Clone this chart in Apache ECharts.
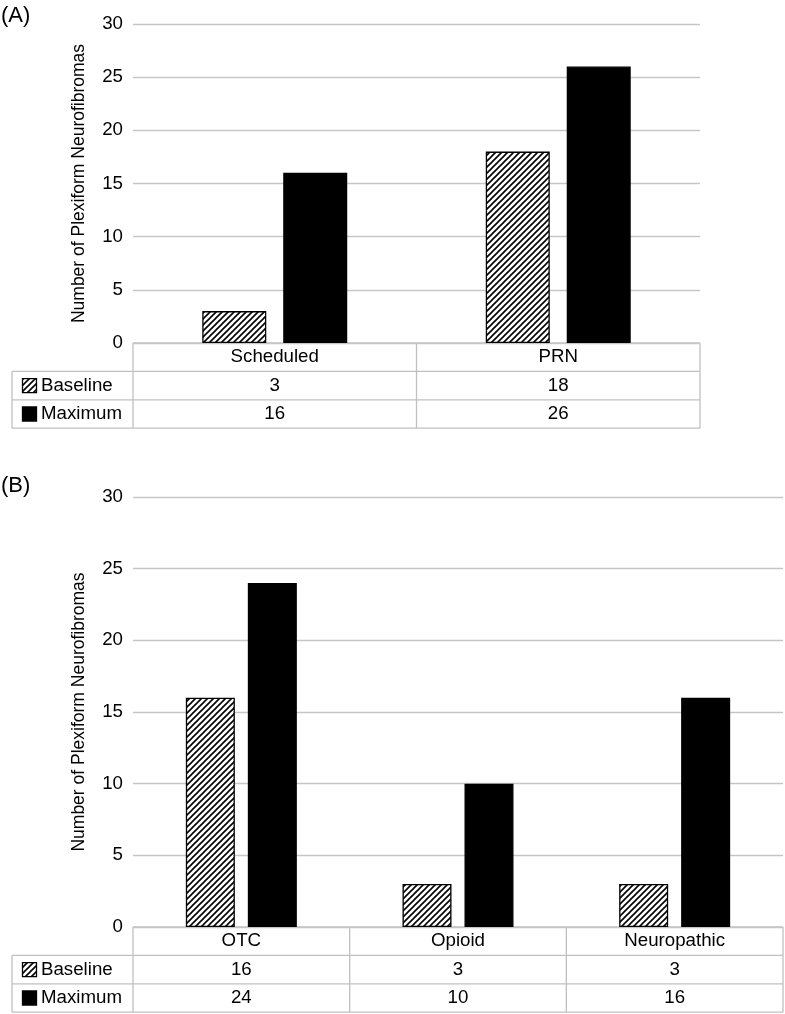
<!DOCTYPE html>
<html><head><meta charset="utf-8">
<script src="https://cdn.jsdelivr.net/npm/echarts@6/dist/echarts.min.js"></script>
<style>html,body{margin:0;padding:0;background:#fff}#c{width:785px;height:1014px}</style>
</head><body><div id="c"></div>
<script>
// ---- data ----
const categoriesA = ['Scheduled', 'PRN'];
const baselineA = [3, 18];
const maximumA = [16, 26];
const categoriesB = ['OTC', 'Opioid', 'Neuropathic'];
const baselineB = [16, 3, 3];
const maximumB = [24, 10, 16];
const yTickMin = 0, yTickMax = 30, yTickStep = 5;
const seriesNames = ['Baseline', 'Maximum'];
const yAxisTitle = 'Number of Plexiform Neurofibromas';
const panelLabels = ['(A)', '(B)'];

// ---- style/layout ----
const FONT = '"Liberation Sans", Arial, Helvetica, sans-serif';
const FS = 18.7;
const GRID_COLOR = '#c6c6c6';
const TABLE_COLOR = '#c0c0c0';
const gA = {left: 133, top: 24, width: 567, height: 319};
const gB = {left: 133, top: 497, width: 650, height: 430};
const rowH = 28.4, labelLeft = 12;

function hatchCanvas() {
  const s = 6, c = document.createElement('canvas');
  c.width = s; c.height = s;
  const ctx = c.getContext('2d');
  ctx.fillStyle = '#fff'; ctx.fillRect(0, 0, s, s);
  ctx.strokeStyle = '#000'; ctx.lineWidth = 1.6;
  ctx.beginPath();
  ctx.moveTo(-1, s + 1); ctx.lineTo(s + 1, -1);
  ctx.moveTo(-1, 1); ctx.lineTo(1, -1);
  ctx.moveTo(s - 1, s + 1); ctx.lineTo(s + 1, s - 1);
  ctx.stroke();
  return c;
}
const hatch = {image: hatchCanvas(), repeat: 'repeat'};

function tableGraphics(g, cats, rows) {
  const out = [];
  const right = g.left + g.width;
  const y0 = g.top + g.height;
  const y3 = y0 + rowH * 3;
  const ln = (x1, y1, x2, y2) => out.push({type: 'line', silent: true, shape: {x1, y1, x2, y2},
    style: {stroke: TABLE_COLOR, lineWidth: 1.3}});
  ln(g.left, y0, right, y0);
  for (let r = 1; r <= 3; r++) ln(labelLeft, y0 + rowH * r, right, y0 + rowH * r);
  ln(labelLeft, y0 + rowH, labelLeft, y3);
  const cw = g.width / cats.length;
  for (let i = 0; i <= cats.length; i++) ln(g.left + i * cw, y0, g.left + i * cw, y3);
  rows.forEach((vals, r) => {
    const cy = y0 + rowH * (r + 1) + rowH / 2;
    out.push({type: 'rect', silent: true, shape: {x: labelLeft + 10.5, y: cy - 7, width: 14, height: 14},
      style: {fill: r === 0 ? hatch : '#000', stroke: '#000', lineWidth: 1.3}});
    out.push({type: 'text', silent: true, x: labelLeft + 29, y: cy,
      style: {text: seriesNames[r], font: FS + 'px ' + FONT, fill: '#000', align: 'left', verticalAlign: 'middle'}});
    vals.forEach((v, i) => {
      out.push({type: 'text', silent: true, x: g.left + cw * (i + 0.5), y: cy,
        style: {text: String(v), font: FS + 'px ' + FONT, fill: '#000', align: 'center', verticalAlign: 'middle'}});
    });
  });
  return out;
}

const chart = echarts.init(document.getElementById('c'), null, {renderer: 'canvas'});

function xAxisFor(cats, gi) {
  return {type: 'category', gridIndex: gi, data: cats,
    axisLine: {show: false}, axisTick: {show: false},
    axisLabel: {show: true, margin: rowH / 2, color: '#000', fontFamily: FONT, fontSize: FS, verticalAlign: 'middle'}};
}
function yAxisFor(gi) {
  return {type: 'value', gridIndex: gi, min: yTickMin, max: yTickMax, interval: yTickStep,
    name: yAxisTitle, nameLocation: 'middle', nameGap: 45,
    nameTextStyle: {color: '#000', fontFamily: FONT, fontSize: 17.5},
    axisLine: {show: false}, axisTick: {show: false},
    axisLabel: {margin: 10, color: '#000', fontFamily: FONT, fontSize: FS},
    splitLine: {lineStyle: {color: GRID_COLOR, width: 1.3}}};
}
function barSeries(name, data, gi, width, isHatch) {
  return {type: 'bar', name, data, xAxisIndex: gi, yAxisIndex: gi, barWidth: width, barGap: '26.5%',
    itemStyle: {color: isHatch ? hatch : '#000', borderColor: '#000', borderWidth: 1.3},
    emphasis: {disabled: true}, animation: false};
}

const option = {
  animation: false,
  backgroundColor: '#fff',
  grid: [
    Object.assign({containLabel: false}, gA),
    Object.assign({containLabel: false}, gB)
  ],
  xAxis: [xAxisFor(categoriesA, 0), xAxisFor(categoriesB, 1)],
  yAxis: [yAxisFor(0), yAxisFor(1)],
  series: [
    barSeries(seriesNames[0], baselineA, 0, 64, true),
    barSeries(seriesNames[1], maximumA, 0, 64, false),
    barSeries(seriesNames[0], baselineB, 1, 49, true),
    barSeries(seriesNames[1], maximumB, 1, 49, false)
  ],
  graphic: [
    {type: 'text', x: 1, y: 16, style: {text: panelLabels[0], font: '22px ' + FONT, fill: '#000', verticalAlign: 'middle'}},
    {type: 'text', x: 1, y: 486, style: {text: panelLabels[1], font: '22px ' + FONT, fill: '#000', verticalAlign: 'middle'}}
  ].concat(tableGraphics(gA, categoriesA, [baselineA, maximumA]))
   .concat(tableGraphics(gB, categoriesB, [baselineB, maximumB]))
};
chart.setOption(option);
</script>
</body></html>
